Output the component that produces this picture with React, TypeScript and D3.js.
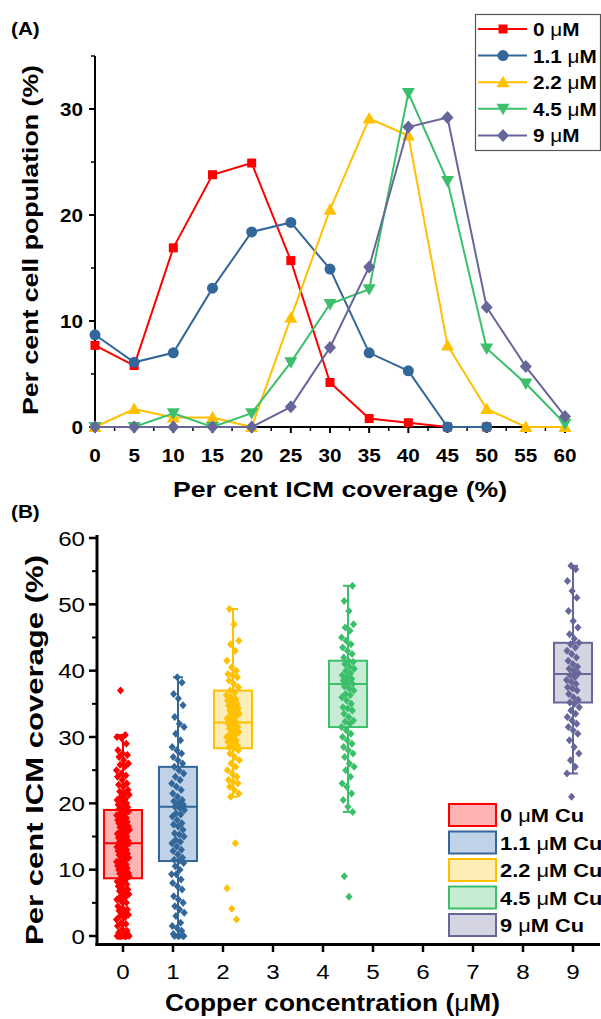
import React from "react";
import * as d3 from "d3";

// ---------- Panel A data ----------
const binsA = [0, 5, 10, 15, 20, 25, 30, 35, 40, 45, 50, 55, 60];
const seriesNamesA = ["0", "1.1", "2.2", "4.5", "9"];
const vals0 = [7.7, 5.8, 16.9, 23.8, 24.9, 15.7, 4.2, 0.8, 0.4, 0, 0];
const vals11 = [8.7, 6.1, 7.0, 13.1, 18.4, 19.3, 14.9, 7.0, 5.3, 0, 0];
const vals22 = [0, 1.7, 0.9, 0.9, 0, 10.3, 20.5, 29.1, 27.5, 7.7, 1.7, 0, 0];
const vals45 = [0, 0, 1.3, 0, 1.3, 6.1, 11.6, 13.0, 31.5, 23.2, 7.4, 4.1, 0.3];
const vals9 = [0, 0, 0, 0, 0, 1.9, 7.5, 15.1, 28.3, 29.2, 11.3, 5.7, 1.0];
const yTicksA = [0, 10, 20, 30];

// ---------- Panel B data ----------
const groupsB = [0, 1.1, 2.2, 4.5, 9];
const groupLabelsB = ["0", "1.1", "2.2", "4.5", "9"];
const q1B = [8.7, 11.3, 28.3, 31.5, 35.2];
const medB = [14, 19.5, 32.2, 38, 39.5];
const q3B = [19, 25.5, 37, 41.5, 44.2];
const whiskLoB = [0, 0, 21, 18.7, 24.5];
const whiskHiB = [30.3, 39, 49.3, 52.8, 55.8];
const pts0 = [0, 0, 0, 0, 0, 0, 0, 0, 0, 0.2, 0.3, 0.5, 0.8, 1, 1.5, 1.8, 2, 2.5, 2.8, 3, 3.2, 3.5, 3.8, 4, 4.2, 4.5, 5, 5.2, 5.5, 5.8, 6, 6.3, 6.6, 6.8, 7, 7.2, 7.5, 7.8, 8, 8.2, 8.5, 8.7, 9, 9.2, 9.4, 9.5, 9.8, 10, 10.2, 10.5, 10.6, 10.8, 11, 11.2, 11.4, 11.5, 11.8, 12, 12.2, 12.4, 12.5, 12.8, 13, 13.2, 13.4, 13.5, 13.8, 14, 14, 14.2, 14.4, 14.5, 14.8, 15, 15.2, 15.4, 15.5, 15.8, 16, 16.2, 16.4, 16.5, 16.8, 17, 17.2, 17.4, 17.5, 17.8, 18, 18.2, 18.4, 18.5, 18.8, 19, 19.2, 19.4, 19.5, 19.8, 20, 20.3, 20.5, 20.7, 21, 21.3, 21.5, 21.8, 22, 22.5, 22.8, 23, 23.5, 24, 24.2, 24.5, 25, 25.5, 25.8, 26, 26.5, 27, 27.3, 27.5, 28, 29, 29.8, 30, 30.3, 37];
const pts11 = [0, 0, 0, 0, 0, 0.3, 0.8, 1.2, 1.5, 2, 3, 3.5, 4, 4.5, 5, 5.5, 6, 7, 7.5, 8, 8.5, 9.3, 9.3, 10, 10.5, 11, 11.3, 11.5, 11.8, 12.3, 12.8, 13, 13.5, 14, 14.2, 14.5, 15, 15.3, 15.5, 16, 16.5, 16.8, 17, 17.5, 18, 18.3, 18.5, 19, 19.3, 19.5, 19.8, 20, 20.3, 20.5, 21, 21.5, 22, 22.5, 23, 23.5, 24, 24.5, 25, 25.5, 26, 26.5, 27, 27.5, 28, 28.5, 29.5, 30.5, 31.5, 32, 33, 34.8, 35.8, 36.5, 38.2, 39];
const pts22 = [2.5, 4.1, 7.2, 14, 21, 21.5, 22, 22.5, 23, 23.2, 23.5, 24, 24.5, 25, 25.5, 26, 26.5, 27, 27.5, 28, 28.3, 28.5, 28.7, 29, 29.3, 29.5, 29.7, 30, 30.3, 30.5, 30.7, 31, 31.3, 31.5, 31.7, 32, 32.2, 32.5, 32.8, 33, 33.3, 33.5, 33.7, 34, 34.3, 34.5, 34.7, 35, 35.3, 35.5, 35.7, 36, 36.3, 36.7, 37, 37.5, 38, 38.5, 39, 39.3, 39.5, 40, 40.5, 41.5, 43, 44, 44.5, 47, 49.3];
const pts45 = [5.9, 9, 18.7, 19.5, 20.5, 21.5, 22.5, 23, 24, 25, 25.5, 26, 27, 27.5, 28, 28.5, 29, 29.5, 30, 30.5, 31, 31.5, 32, 32.3, 32.5, 33, 33.5, 34, 34.3, 34.5, 35, 35.5, 36, 36.3, 36.5, 37, 37.3, 37.6, 38, 38.2, 38.5, 38.8, 39, 39.3, 39.6, 40, 40.3, 40.6, 41, 41.3, 41.5, 42, 42.5, 43, 43.5, 44, 44.5, 45, 46, 46.5, 47, 49, 50.5, 52.8];
const pts9 = [21, 24.5, 25.5, 26.5, 27.5, 28.5, 29.5, 30.5, 31, 31.5, 32, 32.5, 33, 33.5, 34, 34.5, 35, 35.2, 35.6, 36, 36.5, 37, 37.3, 37.5, 38, 38.3, 38.6, 39, 39.3, 39.6, 40, 40.3, 40.6, 41, 41.5, 42, 42.5, 43, 43.5, 44, 44.2, 44.8, 45.5, 46.5, 47.5, 49, 51, 52, 53.5, 55.3, 55.8];
const xTicksB = [0, 1, 2, 3, 4, 5, 6, 7, 8, 9];
const yTicksB = [0, 10, 20, 30, 40, 50, 60];

const strokeCols = ["#FF0000", "#336699", "#FFC000", "#3CBF6B", "#666699"];
const fillCols = ["#FFB3B3", "#BFD2E8", "#FFEDB8", "#C6EDD4", "#D4D4E3"];
const FONT = "'Liberation Sans', Arial, Helvetica, sans-serif";

const seriesA = [vals0, vals11, vals22, vals45, vals9];
const ptsB = [pts0, pts11, pts22, pts45, pts9];
const SX = 1.15; // horizontal stretch of the original rendering

function Marker({ kind, x, y, color }: { kind: number; x: number; y: number; color: string }) {
  if (kind === 0) return <rect x={x - 4.5} y={y - 4.5} width={9} height={9} fill={color} />;
  if (kind === 1) return <circle cx={x} cy={y} r={5.5} fill={color} />;
  if (kind === 2) return <path d={`M${x},${y - 6.5}L${x + 6.5},${y + 5}L${x - 6.5},${y + 5}Z`} fill={color} />;
  if (kind === 3) return <path d={`M${x},${y + 6.5}L${x + 6.5},${y - 5}L${x - 6.5},${y - 5}Z`} fill={color} />;
  return <path d={`M${x},${y - 6.5}L${x + 6},${y}L${x},${y + 6.5}L${x - 6},${y}Z`} fill={color} />;
}

function SText({ x, y, size, bold, anchor, children }: any) {
  return (
    <text
      transform={`translate(${x},${y}) scale(${SX},1)`}
      fontSize={size}
      fontWeight={bold ? "bold" : "normal"}
      textAnchor={anchor || "start"}
    >
      {children}
    </text>
  );
}

function jitter(i: number) {
  return (((i * 7919 + 13) % 97) / 97 - 0.5) * 2;
}

export default function App() {
  const xA = d3.scaleLinear().domain([0, 60]).range([95, 565]);
  const yA = d3.scaleLinear().domain([0, 35]).range([427, 56]);
  const lineA = d3
    .line<[number, number]>()
    .x((d) => xA(d[0]))
    .y((d) => yA(d[1]));

  const xB = d3.scaleLinear().domain([-0.5, 9.5]).range([98, 598]);
  const yB = d3.scaleLinear().domain([0, 60]).range([936, 538]);
  const boxW = 38;

  const minorXA = d3.range(2.5, 60, 5);
  const minorYA = [5, 15, 25, 35];
  const minorYB = [5, 15, 25, 35, 45, 55];

  return (
    <svg
      width={601}
      height={1019}
      style={{ position: "absolute", left: 0, top: 0, background: "#fff" }}
      fontFamily={FONT}
    >
      <rect x={0} y={0} width={601} height={1019} fill="#fff" />
      {/* ================= Panel A ================= */}
      <SText x={11} y={35} size={18} bold>(A)</SText>
      <line x1={95} x2={95} y1={yA(35)} y2={yA(0) + 1} stroke="#000" strokeWidth={2} />
      <line x1={94} x2={xA(60) + 1} y1={yA(0)} y2={yA(0)} stroke="#000" strokeWidth={2} />
      {yTicksA.map((t) => (
        <g key={"ya" + t}>
          <line x1={89} x2={95} y1={yA(t)} y2={yA(t)} stroke="#000" strokeWidth={2} />
          <SText x={83} y={yA(t) + 6.5} size={18} bold anchor="end">{t}</SText>
        </g>
      ))}
      {minorYA.map((t) => (
        <line key={"yam" + t} x1={91} x2={95} y1={yA(t)} y2={yA(t)} stroke="#000" strokeWidth={1.5} />
      ))}
      {binsA.map((t) => (
        <g key={"xa" + t}>
          <line x1={xA(t)} x2={xA(t)} y1={yA(0)} y2={yA(0) + 6} stroke="#000" strokeWidth={2} />
          <SText x={xA(t)} y={yA(0) + 35} size={18} bold anchor="middle">{t}</SText>
        </g>
      ))}
      {minorXA.map((t) => (
        <line key={"xam" + t} x1={xA(t)} x2={xA(t)} y1={yA(0)} y2={yA(0) + 4} stroke="#000" strokeWidth={1.5} />
      ))}
      <text x={173} y={497} fontSize={22} fontWeight="bold" textLength={334} lengthAdjust="spacingAndGlyphs">
        Per cent ICM coverage (%)
      </text>
      <text
        transform={`translate(38,415) rotate(-90)`}
        fontSize={22}
        fontWeight="bold"
        textLength={350}
        lengthAdjust="spacingAndGlyphs"
      >
        Per cent cell population (%)
      </text>
      {seriesA.map((vals, si) => {
        const pts = vals.map((v, i) => [binsA[i], v] as [number, number]);
        return (
          <g key={"sA" + si}>
            <path d={lineA(pts) || ""} fill="none" stroke={strokeCols[si]} strokeWidth={2} />
            {pts.map((p, i) => (
              <Marker key={i} kind={si} x={xA(p[0])} y={yA(p[1])} color={strokeCols[si]} />
            ))}
          </g>
        );
      })}
      {/* legend A */}
      <rect x={475.5} y={14.5} width={125} height={136} fill="#fff" stroke="#555" strokeWidth={1.2} />
      {seriesNamesA.map((num, i) => {
        const yy = 29 + i * 26.6;
        return (
          <g key={"lgA" + i}>
            <line x1={478} x2={527} y1={yy} y2={yy} stroke={strokeCols[i]} strokeWidth={2} />
            <Marker kind={i} x={503} y={yy} color={strokeCols[i]} />
            <SText x={533} y={yy + 7} size={18} bold>
              {num + " "}
              <tspan fontWeight="normal">μ</tspan>M
            </SText>
          </g>
        );
      })}

      {/* ================= Panel B ================= */}
      <SText x={11} y={518} size={18} bold>(B)</SText>
      {groupsB.map((g, i) => {
        const cx = xB(g);
        return (
          <g key={"box" + i}>
            <line x1={cx} x2={cx} y1={yB(whiskHiB[i])} y2={yB(q3B[i])} stroke={strokeCols[i]} strokeWidth={2} />
            <line x1={cx} x2={cx} y1={yB(q1B[i])} y2={yB(whiskLoB[i])} stroke={strokeCols[i]} strokeWidth={2} />
            <line x1={cx - 5} x2={cx + 5} y1={yB(whiskHiB[i])} y2={yB(whiskHiB[i])} stroke={strokeCols[i]} strokeWidth={2} />
            <line x1={cx - 5} x2={cx + 5} y1={yB(whiskLoB[i])} y2={yB(whiskLoB[i])} stroke={strokeCols[i]} strokeWidth={2} />
            <rect
              x={cx - boxW / 2}
              y={yB(q3B[i])}
              width={boxW}
              height={yB(q1B[i]) - yB(q3B[i])}
              fill={fillCols[i]}
              stroke={strokeCols[i]}
              strokeWidth={2}
            />
            <line x1={cx - boxW / 2} x2={cx + boxW / 2} y1={yB(medB[i])} y2={yB(medB[i])} stroke={strokeCols[i]} strokeWidth={2} />
          </g>
        );
      })}
      {ptsB.map((arr, gi) => (
        <g key={"pts" + gi} fill={strokeCols[gi]}>
          {arr.map((v, i) => {
            const x = xB(groupsB[gi]) + jitter(i + gi * 31) * 6.5;
            const y = yB(v);
            return <path key={i} d={`M${x},${y - 4}L${x + 3.6},${y}L${x},${y + 4}L${x - 3.6},${y}Z`} />;
          })}
        </g>
      ))}
      {/* axes B */}
      <line x1={97} x2={97} y1={535} y2={946} stroke="#000" strokeWidth={3} />
      <line x1={95.5} x2={600} y1={944.5} y2={944.5} stroke="#000" strokeWidth={3} />
      {yTicksB.map((t) => (
        <g key={"yb" + t}>
          <line x1={89} x2={97} y1={yB(t)} y2={yB(t)} stroke="#000" strokeWidth={2.5} />
          <SText x={85} y={yB(t) + 7.5} size={21} anchor="end">{t}</SText>
        </g>
      ))}
      {minorYB.map((t) => (
        <line key={"ybm" + t} x1={92} x2={97} y1={yB(t)} y2={yB(t)} stroke="#000" strokeWidth={2} />
      ))}
      {xTicksB.map((t) => (
        <g key={"xb" + t}>
          <line x1={xB(t)} x2={xB(t)} y1={944} y2={952} stroke="#000" strokeWidth={2.5} />
          <SText x={xB(t)} y={979} size={21} anchor="middle">{t}</SText>
        </g>
      ))}
      <text x={165} y={1011} fontSize={24} fontWeight="bold" textLength={335} lengthAdjust="spacingAndGlyphs">
        Copper concentration (<tspan fontWeight="normal">μ</tspan>M)
      </text>
      <text
        transform={`translate(43,945) rotate(-90)`}
        fontSize={24}
        fontWeight="bold"
        textLength={390}
        lengthAdjust="spacingAndGlyphs"
      >
        Per cent ICM coverage (%)
      </text>
      {groupLabelsB.map((num, i) => {
        const yy = 815 + i * 27.5;
        return (
          <g key={"lgB" + i}>
            <rect x={449} y={yy - 11} width={47} height={22} fill={fillCols[i]} stroke={strokeCols[i]} strokeWidth={2} />
            <SText x={500} y={yy + 7} size={19} bold>
              {num + " "}
              <tspan fontWeight="normal">μ</tspan>M Cu
            </SText>
          </g>
        );
      })}
    </svg>
  );
}
